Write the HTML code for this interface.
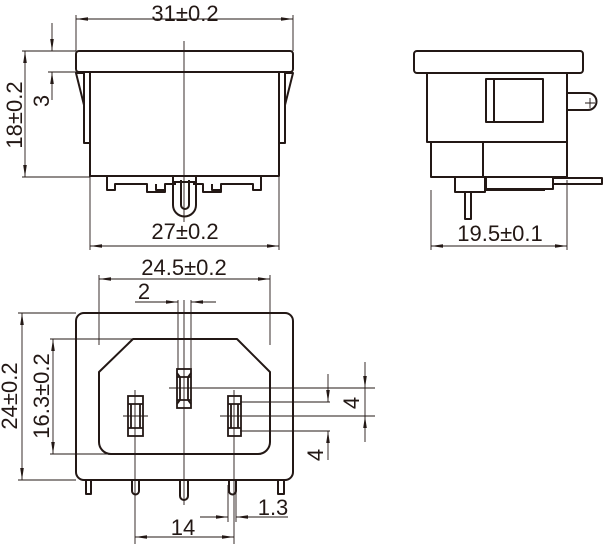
<!DOCTYPE html>
<html><head><style>html,body{margin:0;padding:0;background:#fff}svg{display:block}text{font-family:"Liberation Sans",Arial,sans-serif;font-size:22px;fill:#231815}</style></head>
<body>
<svg width="603" height="544" viewBox="0 0 603 544" xmlns="http://www.w3.org/2000/svg">
<defs>
<marker id="a" viewBox="0 0 12 6" refX="12" refY="3" markerWidth="12" markerHeight="6" orient="auto-start-reverse" markerUnits="userSpaceOnUse"><path d="M0,1.2 L12,3 L0,4.8z" fill="#231815"/></marker>
</defs>
<g fill="none" stroke="#231815" stroke-width="0.9">
<line x1="76" y1="15" x2="76" y2="51"/><line x1="293" y1="15" x2="293" y2="51"/>
<line x1="76" y1="19" x2="293" y2="19" marker-start="url(#a)" marker-end="url(#a)"/>
<line x1="90" y1="177" x2="90" y2="250"/><line x1="279" y1="177" x2="279" y2="250"/>
<line x1="90" y1="246" x2="279" y2="246" marker-start="url(#a)" marker-end="url(#a)"/>
<line x1="22" y1="51" x2="76" y2="51"/><line x1="22" y1="177" x2="90" y2="177"/>
<line x1="25" y1="51" x2="25" y2="177" marker-start="url(#a)" marker-end="url(#a)"/>
<line x1="48" y1="72" x2="76" y2="72"/>
<line x1="52" y1="23" x2="52" y2="51" marker-end="url(#a)"/>
<line x1="52" y1="100" x2="52" y2="72" marker-end="url(#a)"/>
<line x1="184" y1="41" x2="184" y2="222"/>
<line x1="99" y1="275" x2="99" y2="345"/><line x1="270" y1="275" x2="270" y2="345"/>
<line x1="99" y1="279" x2="270" y2="279" marker-start="url(#a)" marker-end="url(#a)"/>
<line x1="135" y1="302" x2="177" y2="302"/>
<line x1="155" y1="302" x2="178" y2="302" marker-end="url(#a)"/>
<line x1="216" y1="302" x2="191" y2="302" marker-end="url(#a)"/>
<line x1="178" y1="300" x2="178" y2="370"/><line x1="191" y1="300" x2="191" y2="370"/>
<line x1="18" y1="313" x2="76" y2="313"/><line x1="18" y1="480" x2="76" y2="480"/>
<line x1="22" y1="313" x2="22" y2="480" marker-start="url(#a)" marker-end="url(#a)"/>
<line x1="50" y1="339" x2="133" y2="339"/><line x1="50" y1="454" x2="110" y2="454"/>
<line x1="53" y1="339" x2="53" y2="454" marker-start="url(#a)" marker-end="url(#a)"/>
<line x1="184" y1="300" x2="184" y2="505"/>
<line x1="135" y1="390" x2="135" y2="545"/><line x1="234" y1="390" x2="234" y2="545"/>
<line x1="123" y1="416" x2="148" y2="416"/>
<line x1="169" y1="388" x2="375" y2="388"/>
<line x1="240" y1="402" x2="330" y2="402"/>
<line x1="220" y1="416" x2="375" y2="416"/>
<line x1="240" y1="431" x2="330" y2="431"/>
<line x1="365" y1="362" x2="365" y2="388" marker-end="url(#a)"/>
<line x1="365" y1="442" x2="365" y2="416" marker-end="url(#a)"/>
<line x1="365" y1="388" x2="365" y2="416"/>
<line x1="328" y1="374" x2="328" y2="402" marker-end="url(#a)"/>
<line x1="328" y1="460" x2="328" y2="431" marker-end="url(#a)"/>
<line x1="228" y1="485" x2="228" y2="522"/><line x1="236" y1="485" x2="236" y2="522"/>
<line x1="200" y1="517" x2="228" y2="517" marker-end="url(#a)"/>
<line x1="288" y1="517" x2="236" y2="517" marker-end="url(#a)"/>
<line x1="135" y1="537" x2="234" y2="537" marker-start="url(#a)" marker-end="url(#a)"/>
<line x1="431" y1="190" x2="431" y2="250"/><line x1="567" y1="180" x2="567" y2="250"/>
<line x1="431" y1="246" x2="567" y2="246" marker-start="url(#a)" marker-end="url(#a)"/>
</g>
<g fill="none" stroke="#231815" stroke-width="2" stroke-linejoin="round">
<rect x="76" y="51" width="217" height="21" rx="3"/>
<rect x="90" y="72" width="189" height="104"/>
<path d="M84 73 V143 H90 M84 73 H76 L84 105"/>
<path d="M285 73 V143 H279 M285 73 H293 L285 105"/>
<path d="M107 176 V190 H115 V184 H147 V192 H165 V184 H176 M193 184 H203 V192 H221 V184 H253 V190 H261 V176"/>
<path d="M156 184 V190 H165 M212 184 V190 H221"/>
<path d="M173 176 V205 A11.5 11.5 0 0 0 196 205 V176 M181 180 V205 A4 4 0 0 0 189 205 V180 M172 182 H197"/>
<rect x="414" y="51" width="169" height="22" rx="3"/>
<path d="M427 73 V142 H567 V73"/>
<rect x="486" y="79" width="57" height="43"/><line x1="494" y1="79" x2="494" y2="122"/>
<path d="M567 93 H588 A8.5 8.5 0 0 1 588 110 H567"/>
<path d="M431 142 V177 H567 V142 M483 142 V177"/>
<rect x="455" y="177" width="30" height="15"/>
<path d="M486 177 V189 H553 V177 M486 190 H545"/>
<rect x="553" y="178" width="49" height="6"/>
<rect x="465" y="192" width="6" height="27"/>
<rect x="76" y="313" width="217" height="167" rx="8"/>
<path d="M133 339 H237 L270 372 V442 A12 12 0 0 1 258 454 H111 A12 12 0 0 1 99 442 V372 Z"/>
<path d="M86 480 V494 H91 V480"/>
<path d="M278 480 V494 H284 V480"/>
<path d="M132 480 V491 A3.5 3.5 0 0 0 139 491 V480"/>
<path d="M229 480 V491 A3.5 3.5 0 0 0 236 491 V480"/>
<path d="M180 480 V496 A4 4 0 0 0 188 496 V480"/>
</g>
<g fill="none" stroke="#231815" stroke-width="1.8">
<rect x="177" y="369" width="14" height="39"/>
<rect x="128" y="396" width="15" height="40"/>
<rect x="228" y="396" width="13" height="40"/>
<path d="M177 377 H191 M180 377 V400 M188 377 V400 M177 400 H191 M177 373 L180 377 M191 373 L188 377 M177 404 L180 400 M191 404 L188 400"/>
<path d="M128 404 H143 M131 404 V428 M140 404 V428 M128 428 H143"/>
<path d="M228 404 H241 M231 404 V428 M238 404 V428 M228 428 H241"/>
</g>
<path d="M585 103 H595 M590 98 V108" stroke="#231815" stroke-width="0.9"/>
<g>
<text x="185" y="21" text-anchor="middle">31±0.2</text>
<text x="185" y="239" text-anchor="middle">27±0.2</text>
<text x="500" y="241" text-anchor="middle">19.5±0.1</text>
<text x="184" y="275" text-anchor="middle">24.5±0.2</text>
<text x="144" y="299" text-anchor="middle">2</text>
<text x="183" y="535" text-anchor="middle">14</text>
<text x="273" y="515" text-anchor="middle">1.3</text>
<text transform="translate(22,115) rotate(-90)" text-anchor="middle">18±0.2</text>
<text transform="translate(49,101) rotate(-90)" text-anchor="middle">3</text>
<text transform="translate(17,396) rotate(-90)" text-anchor="middle">24±0.2</text>
<text transform="translate(49,396) rotate(-90)" text-anchor="middle">16.3±0.2</text>
<text transform="translate(359,403) rotate(-90)" text-anchor="middle">4</text>
<text transform="translate(323,455) rotate(-90)" text-anchor="middle">4</text>
</g>
</svg>
</body></html>
